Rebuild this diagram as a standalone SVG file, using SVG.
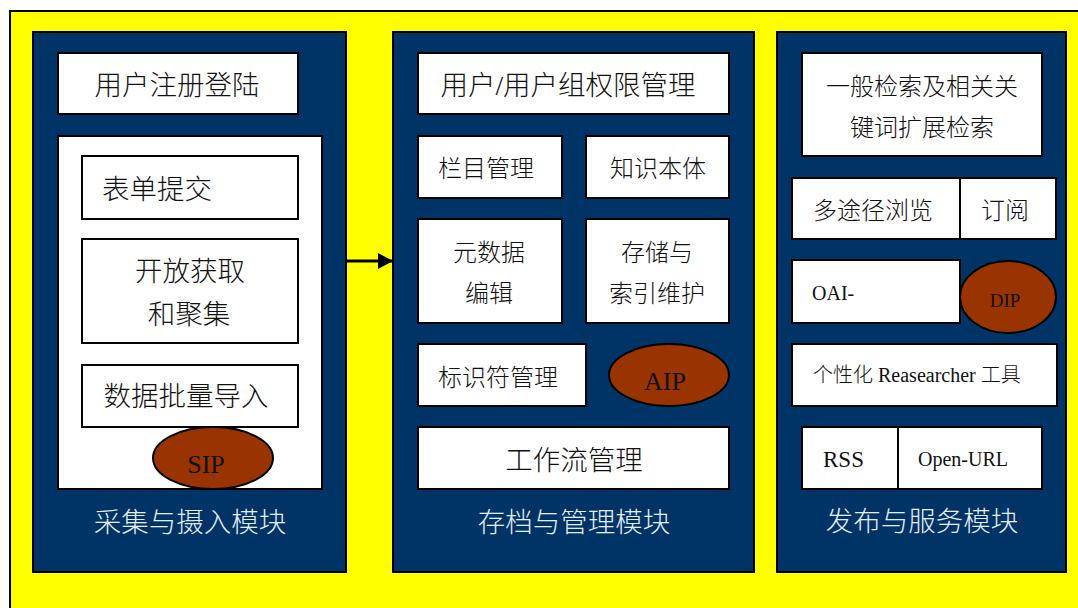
<svg xmlns="http://www.w3.org/2000/svg" width="1078" height="608" viewBox="0 0 1078 608">
<style>
.bg{fill:#ffff00;stroke:#000;stroke-width:2}
.panel{fill:#003366;stroke:#000;stroke-width:2}
.box{fill:#fff;stroke:#000;stroke-width:2}
.oval{fill:#993300;stroke:#000;stroke-width:2}
text{font-family:"Liberation Serif","Noto Sans CJK SC",serif;fill:#111}
.l{font-size:27.5px;font-weight:300}
.m{font-size:24px;font-weight:300}
.s{font-size:20px;font-weight:300}
.c{text-anchor:middle}
.title{font-size:27.5px;font-weight:300;fill:#e4ecf4;text-anchor:middle}
</style>
<defs>
<marker id="ah" markerWidth="16" markerHeight="16" refX="15" refY="8" orient="auto" markerUnits="userSpaceOnUse">
<path d="M0,0 L15,8 L0,16 Z" fill="#000"/>
</marker>
</defs>
<rect class="bg" x="10" y="11" width="1080" height="610"/>

<g id="panel-ingest">
<rect class="panel" x="33" y="32" width="313" height="540"/>
<text class="title" x="190" y="532">采集与摄入模块</text>
</g>
<g id="user-register">
<rect class="box" x="58" y="53" width="240" height="61"/>
<text class="l c" x="177" y="95">用户注册登陆</text>
</g>
<g id="ingest-container">
<rect class="box" x="58" y="136" width="264" height="353"/>
</g>
<g id="form-submit">
<rect class="box" x="82" y="156" width="216" height="63"/>
<text class="l" x="102" y="199">表单提交</text>
</g>
<g id="open-harvest">
<rect class="box" x="82" y="239" width="216" height="104"/>
<text class="l c" x="190" y="281">开放获取</text>
<text class="l c" x="189" y="324">和聚集</text>
</g>
<g id="batch-import">
<rect class="box" x="82" y="365" width="216" height="62"/>
<text class="l c" x="186" y="406">数据批量导入</text>
</g>
<g id="sip">
<ellipse class="oval" cx="213" cy="458" rx="60" ry="31"/>
<text class="c" x="206" y="473" style="font-size:26px">SIP</text>
</g>

<g id="panel-archive">
<rect class="panel" x="393" y="32" width="361" height="540"/>
<text class="title" x="574" y="532">存档与管理模块</text>
</g>
<g id="user-group-perm">
<rect class="box" x="418" y="53" width="311" height="61"/>
<text class="l c" x="568" y="95">用户/用户组权限管理</text>
</g>
<g id="column-mgmt">
<rect class="box" x="418" y="136" width="144" height="62"/>
<text class="m c" x="486" y="177">栏目管理</text>
</g>
<g id="ontology">
<rect class="box" x="586" y="136" width="143" height="62"/>
<text class="m c" x="658" y="177">知识本体</text>
</g>
<g id="metadata-edit">
<rect class="box" x="418" y="219" width="144" height="104"/>
<text class="m c" x="489" y="261">元数据</text>
<text class="m c" x="489" y="302">编辑</text>
</g>
<g id="storage-index">
<rect class="box" x="586" y="219" width="143" height="104"/>
<text class="m c" x="657" y="261">存储与</text>
<text class="m c" x="657" y="302">索引维护</text>
</g>
<g id="identifier-mgmt">
<rect class="box" x="418" y="344" width="168" height="62"/>
<text class="m c" x="498" y="386">标识符管理</text>
</g>
<g id="aip">
<ellipse class="oval" cx="669" cy="375" rx="60" ry="31"/>
<text class="c" x="665" y="390" style="font-size:26px">AIP</text>
</g>
<g id="workflow-mgmt">
<rect class="box" x="418" y="427" width="311" height="62"/>
<text class="l c" x="574" y="470">工作流管理</text>
</g>

<g id="panel-publish">
<rect class="panel" x="777" y="32" width="289" height="540"/>
<text class="title" x="922" y="531">发布与服务模块</text>
</g>
<g id="search">
<rect class="box" x="802" y="53" width="240" height="103"/>
<text class="m c" x="922" y="95">一般检索及相关关</text>
<text class="m c" x="922" y="136">键词扩展检索</text>
</g>
<g id="browse">
<rect class="box" x="792" y="178" width="168" height="61"/>
<text class="m c" x="873" y="219">多途径浏览</text>
</g>
<g id="subscribe">
<rect class="box" x="960" y="178" width="96" height="61"/>
<text class="m c" x="1005" y="219">订阅</text>
</g>
<g id="oai">
<rect class="box" x="792" y="260" width="168" height="63"/>
<text x="812" y="300" style="font-size:20px">OAI-</text>
</g>
<g id="dip">
<ellipse class="oval" cx="1008" cy="297" rx="48" ry="36"/>
<text class="c" x="1005" y="307" style="font-size:19px">DIP</text>
</g>
<g id="researcher-tool">
<rect class="box" x="792" y="344" width="265" height="62"/>
<text class="s" x="813" y="382">个性化 Reasearcher 工具</text>
</g>
<g id="rss">
<rect class="box" x="802" y="427" width="96" height="62"/>
<text x="823" y="467" style="font-size:23px">RSS</text>
</g>
<g id="open-url">
<rect class="box" x="898" y="427" width="144" height="62"/>
<text x="918" y="466" style="font-size:20px">Open-URL</text>
</g>

<g id="connectors">
<line x1="346" y1="261" x2="393" y2="261" stroke="#000" stroke-width="3" marker-end="url(#ah)"/>
</g>
</svg>
